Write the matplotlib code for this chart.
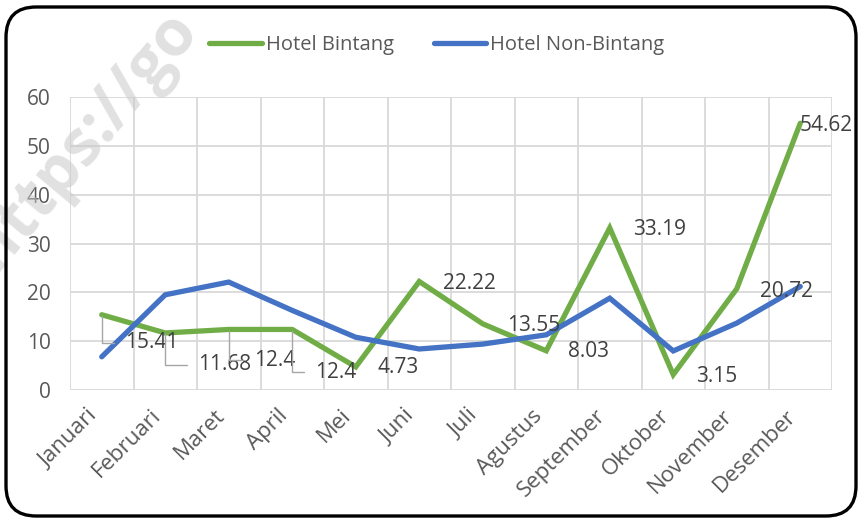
import matplotlib
matplotlib.use("Agg")
import matplotlib.pyplot as plt
from matplotlib.patches import FancyBboxPatch
import numpy as np

months = ["Januari", "Februari", "Maret", "April", "Mei", "Juni", "Juli",
          "Agustus", "September", "Oktober", "November", "Desember"]
bintang = [15.41, 11.68, 12.4, 12.4, 4.73, 22.22, 13.55, 8.03, 33.19, 3.15, 20.72, 54.62]
non_bintang = [6.8, 19.5, 22.1, 16.3, 10.8, 8.4, 9.4, 11.3, 18.8, 8.0, 13.7, 21.2]
bintang_labels = ["15.41", "11.68", "12.4", "12.4", "4.73", "22.22", "13.55",
                  "8.03", "33.19", "3.15", "20.72", "54.62"]
yticks = [0, 10, 20, 30, 40, 50, 60]

# label offsets in pixels (layout only) and whether a leader line is drawn
label_offsets = [(23, -28), (33, -32), (25, -31), (23, -43), (22, -1), (24, -2),
                 (24, -2), (22, -1), (23, -2), (23, -2), (23, -3), (-1, -2)]
leaders = [True, True, True, True] + [False] * 8

FONT = "Open Sans"
TXT = "#595959"
GREEN = "#70AD47"
BLUE = "#4472C4"
GRID = "#d9d9d9"

W, H = 861, 518
fig = plt.figure(figsize=(W / 100, H / 100), dpi=100)

# rounded frame
frame = FancyBboxPatch((6 / W, 2 / H), 850 / W, 509 / H,
                       boxstyle="round,pad=0,rounding_size=0.035",
                       transform=fig.transFigure, fill=False,
                       edgecolor="black", linewidth=2.4, zorder=0,
                       mutation_aspect=W / H)
fig.patches.append(frame)

ax = fig.add_axes([70 / W, 1 - 390 / H, 762 / W, 293 / H])
ax.patch.set_alpha(0)
x = np.arange(len(months))

ax.set_xlim(-0.5, len(months) - 0.5)
ax.set_ylim(0, 60)
ax.set_yticks(yticks)
ax.set_yticklabels([str(v) for v in yticks], fontsize=15, color=TXT, family=FONT)
ax.set_xticks(x)
ax.set_xticklabels(months, rotation=45, ha="right", fontsize=16, color=TXT, family=FONT)
ax.set_xticks(np.arange(-0.5, len(months), 1), minor=True)
ax.tick_params(axis="both", which="both", length=0)
ax.tick_params(axis="y", pad=14)
ax.tick_params(axis="x", pad=11)
ax.grid(True, axis="y", which="major", color=GRID, linewidth=1.3)
ax.grid(True, axis="x", which="minor", color=GRID, linewidth=1.3)
ax.grid(False, axis="x", which="major")
for s in ax.spines.values():
    s.set_visible(False)
ax.set_axisbelow(True)

l1, = ax.plot(x, bintang, color=GREEN, linewidth=3.8, solid_joinstyle="miter",
              solid_capstyle="round", label="Hotel Bintang", zorder=3)
l2, = ax.plot(x, non_bintang, color=BLUE, linewidth=3.8, solid_joinstyle="miter",
              solid_capstyle="round", label="Hotel Non-Bintang", zorder=4)

for xi, yi, lab, off, lead in zip(x, bintang, bintang_labels, label_offsets, leaders):
    kw = {}
    if lead:
        kw["arrowprops"] = dict(arrowstyle="-", color="#a6a6a6", linewidth=1.0,
                                connectionstyle="angle,angleA=0,angleB=90,rad=0",
                                shrinkA=6, shrinkB=1, relpos=(0, 0.5))
    ax.annotate(lab, xy=(xi, yi), xytext=off, textcoords="offset pixels",
                ha="left", va="center", fontsize=15, color="#404040",
                family=FONT, zorder=6, **kw)

leg = fig.legend(handles=[l1, l2], loc="center", bbox_to_anchor=(437 / W, 1 - 45 / H),
                 ncol=2, frameon=False, prop={"family": FONT, "size": 14.5},
                 handlelength=2.6, handletextpad=0.2, columnspacing=2.0)
for t in leg.get_texts():
    t.set_color(TXT)
for lh in leg.get_lines():
    lh.set_linewidth(3.8)

# faint watermark
ax.text(-4 / W, 1 - 272 / H, "https://go", rotation=50, fontsize=46,
        fontweight="bold", color="#c8c8c8", alpha=0.55, family=FONT,
        ha="left", va="baseline", rotation_mode="anchor", zorder=1,
        transform=fig.transFigure, clip_on=False)

fig.savefig("out.png", dpi=100)
